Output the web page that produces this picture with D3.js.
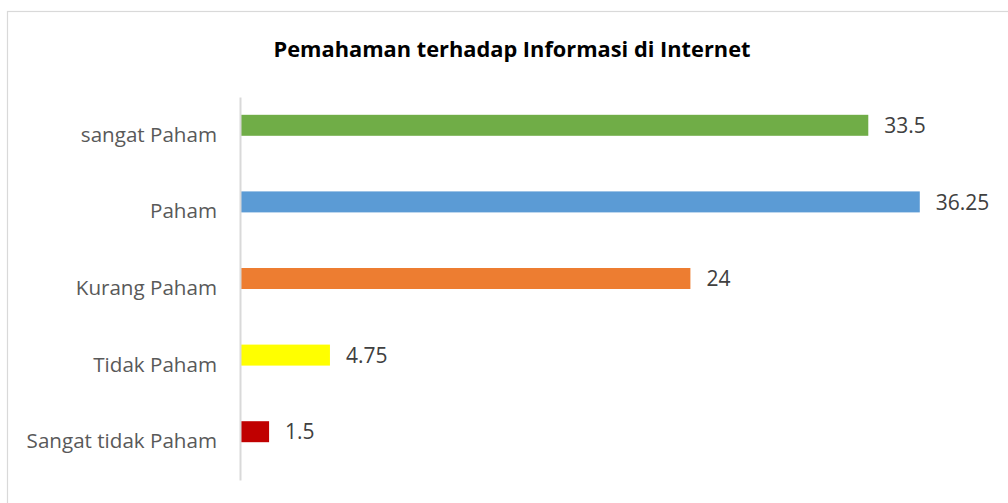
<!DOCTYPE html>
<html><head><meta charset="utf-8">
<script src="https://cdn.jsdelivr.net/npm/d3@7"></script>
<style>body{margin:0;background:#fff;} svg{display:block;}</style>
</head><body>
<svg id="c" width="1008" height="503"></svg>
<script>
const categories = ["sangat Paham", "Paham", "Kurang Paham", "Tidak Paham", "Sangat tidak Paham"];
const values = [33.5, 36.25, 24, 4.75, 1.5];
const colors = ["#70ad47", "#5b9bd5", "#ed7d31", "#ffff00", "#c00000"];
const valueLabels = ["33.5", "36.25", "24", "4.75", "1.5"];
const title = "Pemahaman terhadap Informasi di Internet";

const svg = d3.select("#c");
const font = "'Open Sans', 'Noto Sans', sans-serif";

// chart border (top and left visible)
svg.append("rect").attr("x", 7.5).attr("y", 11.5).attr("width", 1010).attr("height", 510)
  .attr("fill", "none").attr("stroke", "#d9d9d9").attr("stroke-width", 1.2);

const x = d3.scaleLinear().domain([0, 40]).range([241, 990]);
const y = d3.scaleBand().domain(categories).range([97, 480]).paddingInner(0.726).paddingOuter(0.363);
const barShift = -10; // bars sit slightly above category centre

svg.append("text").attr("x", 512).attr("y", 57).attr("text-anchor", "middle")
  .attr("font-family", font).attr("font-weight", "bold").attr("font-size", 21.8)
  .attr("fill", "#000").text(title);

svg.selectAll("rect.bar").data(categories).join("rect").attr("class", "bar")
  .attr("x", x(0)).attr("y", d => y(d) + barShift).attr("height", y.bandwidth())
  .attr("width", (d, i) => x(values[i]) - x(0)).attr("fill", (d, i) => colors[i]);

const yAxis = svg.append("g").attr("transform", `translate(${x(0) - 1},0)`)
  .call(d3.axisLeft(y).tickSize(0).tickPadding(23));
yAxis.select(".domain").attr("stroke", "#d9d9d9").attr("stroke-width", 2);
yAxis.selectAll("text").attr("font-family", font).attr("font-size", 20.6).attr("fill", "#595959");

svg.selectAll("text.val").data(categories).join("text").attr("class", "val")
  .attr("x", (d, i) => x(values[i]) + 16).attr("y", d => y(d) + barShift + y.bandwidth() / 2)
  .attr("dy", "0.37em").attr("font-family", font).attr("font-size", 21).attr("fill", "#404040")
  .text((d, i) => valueLabels[i]);
</script>
</body></html>
